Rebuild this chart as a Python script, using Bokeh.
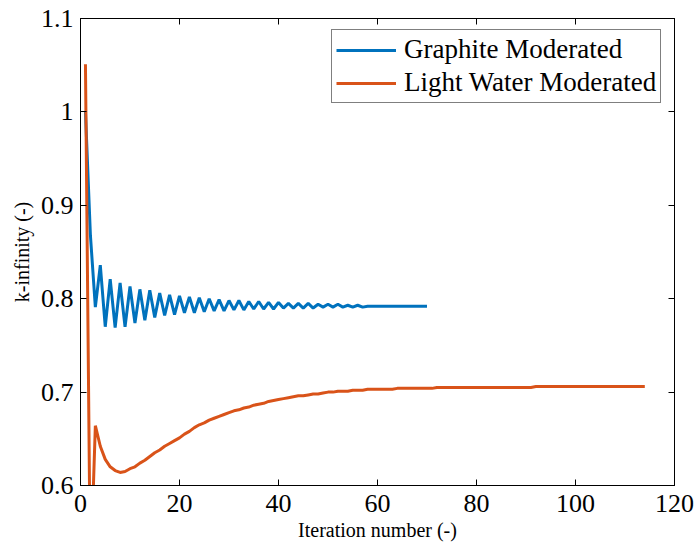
from bokeh.plotting import figure
from bokeh.models import (Range1d, LinearAxis, FixedTicker, Legend, LegendItem,
                          ColumnDataSource)
from bokeh.embed import file_html
from bokeh.resources import INLINE

# ---------------- data ----------------
iter_graphite = list(range(1, 71))
k_graphite = [
    1.000, 0.868, 0.791, 0.836, 0.770, 0.821, 0.769, 0.817, 0.770, 0.813,
    0.774, 0.810, 0.777, 0.809, 0.780, 0.806, 0.782, 0.804, 0.783, 0.803,
    0.785, 0.802, 0.785, 0.801, 0.786, 0.800, 0.787, 0.799, 0.787, 0.798,
    0.788, 0.798, 0.788, 0.797, 0.789, 0.797, 0.789, 0.796, 0.789, 0.796,
    0.790, 0.795, 0.790, 0.795, 0.790, 0.795, 0.790, 0.794, 0.791, 0.794,
    0.791, 0.794, 0.791, 0.793, 0.791, 0.793, 0.791, 0.792, 0.792, 0.792,
    0.792, 0.792, 0.792, 0.792, 0.792, 0.792, 0.792, 0.792, 0.792, 0.792,
]

iter_water = list(range(1, 115))
k_water = [
    1.051, 0.500, 0.664, 0.642, 0.628, 0.620, 0.616, 0.614, 0.615, 0.618,
    0.620, 0.624, 0.627, 0.631, 0.635, 0.638, 0.642, 0.645, 0.648, 0.651,
    0.655, 0.658, 0.662, 0.665, 0.667, 0.670, 0.672, 0.674, 0.676, 0.678,
    0.680, 0.681, 0.683, 0.684, 0.686, 0.687, 0.688, 0.690, 0.691, 0.692,
    0.693, 0.694, 0.695, 0.696, 0.696, 0.697, 0.698, 0.698, 0.699, 0.700,
    0.700, 0.701, 0.701, 0.701, 0.702, 0.702, 0.702, 0.703, 0.703, 0.703,
    0.703, 0.703, 0.703, 0.704, 0.704, 0.704, 0.704, 0.704, 0.704, 0.704,
    0.704, 0.705, 0.705, 0.705, 0.705, 0.705, 0.705, 0.705, 0.705, 0.705,
    0.705, 0.705, 0.705, 0.705, 0.705, 0.705, 0.705, 0.705, 0.705, 0.705,
    0.705, 0.706, 0.706, 0.706, 0.706, 0.706, 0.706, 0.706, 0.706, 0.706,
    0.706, 0.706, 0.706, 0.706, 0.706, 0.706, 0.706, 0.706, 0.706, 0.706,
    0.706, 0.706, 0.706, 0.706,
]

series_labels = ["Graphite Moderated", "Light Water Moderated"]
series_colors = ["#0072BD", "#D95319"]

x_ticks = [0, 20, 40, 60, 80, 100, 120]
x_tick_labels = ["0", "20", "40", "60", "80", "100", "120"]
y_ticks = [0.6, 0.7, 0.8, 0.9, 1.0, 1.1]
y_tick_labels = ["0.6", "0.7", "0.8", "0.9", "1", "1.1"]

x_label = "Iteration number (-)"
y_label = "k-infinity (-)"

FONT = "Liberation Serif"

# ---------------- figure ----------------
p = figure(width=698, height=544, output_backend="svg", toolbar_location=None,
           x_range=Range1d(0, 120), y_range=Range1d(0.6, 1.1),
           min_border_left=80, min_border_right=24, min_border_top=18,
           min_border_bottom=59)
p.background_fill_color = "white"
p.border_fill_color = "white"
p.outline_line_color = "black"
p.outline_line_width = 1
p.xgrid.visible = False
p.ygrid.visible = False

src_g = ColumnDataSource(dict(x=iter_graphite, y=k_graphite))
src_w = ColumnDataSource(dict(x=iter_water, y=k_water))
r1 = p.line("x", "y", source=src_g, line_color=series_colors[0], line_width=3)
r2 = p.line("x", "y", source=src_w, line_color=series_colors[1], line_width=3)


def style_axis(ax, ticks, labels, show_labels):
    ax.ticker = FixedTicker(ticks=ticks)
    ax.major_label_overrides = {t: l for t, l in zip(ticks, labels)}
    ax.major_tick_in = 6
    ax.major_tick_out = 0
    ax.minor_tick_line_color = None
    ax.axis_line_color = "black"
    ax.major_tick_line_color = "black"
    ax.major_label_text_font = FONT
    ax.major_label_text_color = "black"
    if show_labels:
        ax.major_label_text_font_size = "26px"
    else:
        ax.major_label_text_font_size = "0px"
        ax.major_label_standoff = 0


xa = p.xaxis[0]
ya = p.yaxis[0]
style_axis(xa, x_ticks, x_tick_labels, True)
style_axis(ya, y_ticks, y_tick_labels, True)
xa.major_label_standoff = 9
ya.major_label_standoff = 7
xa.axis_label = x_label
ya.axis_label = y_label
for ax in (xa, ya):
    ax.axis_label_text_font = FONT
    ax.axis_label_text_font_size = "20px"
    ax.axis_label_text_font_style = "normal"
    ax.axis_label_text_color = "black"
xa.axis_label_standoff = 4
ya.axis_label_standoff = 5

top = LinearAxis()
style_axis(top, x_ticks, ["" for _ in x_ticks], False)
p.add_layout(top, "above")
right = LinearAxis()
style_axis(right, y_ticks, ["" for _ in y_ticks], False)
p.add_layout(right, "right")

legend = Legend(items=[LegendItem(label=series_labels[0], renderers=[r1]),
                       LegendItem(label=series_labels[1], renderers=[r2])],
                location=(251, 382), margin=0, padding=4, spacing=2,
                label_height=28, glyph_height=28, glyph_width=60,
                label_standoff=8,
                label_text_font=FONT, label_text_font_size="27px",
                label_text_color="black",
                border_line_color="black", border_line_width=1,
                background_fill_color="white", background_fill_alpha=1)
p.add_layout(legend)

open("out.html", "w").write(file_html(p, INLINE))
